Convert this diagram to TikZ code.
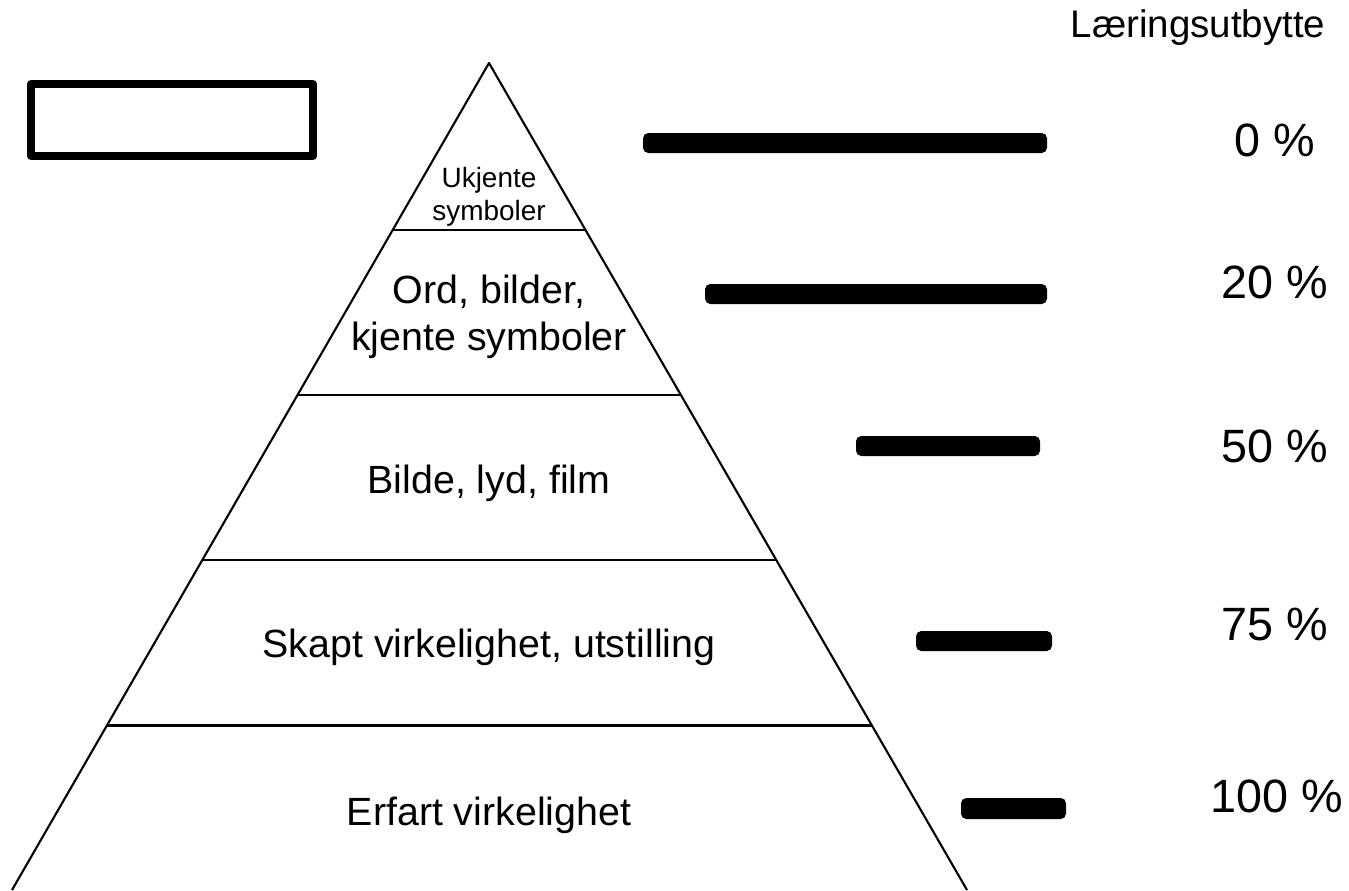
\documentclass[tikz,border=0pt]{standalone}
\usepackage{fontspec}
\setmainfont{Liberation Sans}
\usetikzlibrary{calc}
\tikzset{
  layertext/.style={anchor=base,inner sep=0pt,font=\fontsize{22.4}{26}\selectfont},
  toptext/.style={anchor=base,inner sep=0pt,font=\fontsize{15.9}{18}\selectfont},
  pcttext/.style={anchor=base,inner sep=0pt,font=\fontsize{26.6}{30}\selectfont},
  bar/.style={fill=black,rounded corners=3pt},
  divider/.style={line width=3*0.5669pt}
}
\begin{document}
\begin{tikzpicture}[x=0.02cm,y=-0.02cm,line join=round]
  \useasboundingbox (0,0) rectangle (1349,890);
  % pyramid
  \coordinate (T) at (489,63); \coordinate (BL) at (12,890); \coordinate (BR) at (967,890);
  \draw[line width=1.2pt] (BL)--(T)--(BR);
  \foreach \y in {230,395,560,725}
    \draw[divider] ($(T)!{(\y-63)/827}!(BL)$) -- ($(T)!{(\y-63)/827}!(BR)$);
  % empty box
  \draw[line width=8*0.5669pt] (31,84) rectangle (313,156);
  % layer labels
  \node[toptext] (uk1) at (489,187) {Ukjente};
  \node[toptext] (uk2) at (489,220) {symboler};
  \node[layertext] (ord1) at (489,303) {Ord, bilder,};
  \node[layertext] (ord2) at (489,350) {kjente symboler};
  \node[layertext] (bil) at (489,493) {Bilde, lyd, film};
  \node[layertext] (skp) at (489,657) {Skapt virkelighet, utstilling};
  \node[layertext] (erf) at (489,825) {Erfart virkelighet};
  % bars
  \fill[bar] (643,133) rectangle (1047,153);
  \fill[bar] (705,284) rectangle (1047,304);
  \fill[bar] (856,436) rectangle (1040,456);
  \fill[bar] (916,631) rectangle (1052,651);
  \fill[bar] (961,798) rectangle (1066,819);
  % outcome
  \node[layertext,font=\fontsize{21.9}{26}\selectfont] (head) at (1198,37) {Læringsutbytte};
  \node[pcttext] (p0) at (1275,156) {0 \%};
  \node[pcttext] (p20) at (1275,298) {20 \%};
  \node[pcttext] (p50) at (1275,462) {50 \%};
  \node[pcttext] (p75) at (1275,640) {75 \%};
  \node[pcttext] (p100) at (1277,812) {100 \%};
\end{tikzpicture}
\end{document}
